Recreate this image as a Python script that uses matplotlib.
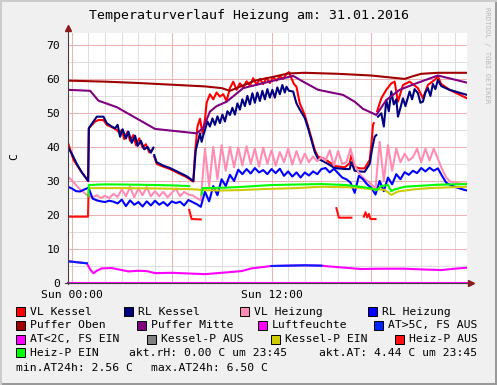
import numpy as np
import matplotlib
matplotlib.use("Agg")
import matplotlib.pyplot as plt
from matplotlib.patches import Rectangle

nan = np.nan
W, H = 497, 385
MONO = "DejaVu Sans Mono"

# --- data (hours relative to Sun 00:00) ---
# regular 15 min grid for the two noisy heating circuit series
t_grid = np.arange(97) * 0.25 - 0.25

vl_heizung = [31.3, 30.2, 28.8, 27.5, 26.5, 25.5, 25.2, 25.8, 25.0, 25.6, 25.0, 26.2, 25.3,
              27.5, 25.5, 28.3, 25.2, 27.8, 25.8, 28.2, 25.5, 27.0, 25.5, 26.8, 25.2, 26.5,
              27.8, 25.5, 26.8, 26.0, 25.8, 25.0, 24.3, 39.5, 28.5, 40.0, 30.5, 40.5, 33.0,
              40.0, 34.0, 39.8, 34.5, 40.2, 35.0, 39.5, 34.2, 39.8, 35.0, 39.0, 34.5, 38.5,
              35.5, 39.5, 34.8, 38.8, 35.2, 38.0, 35.5, 37.2, 35.8, 37.0, 36.0, 39.0, 34.5,
              38.8, 35.0, 35.5, 39.5, 34.8, 32.3, 31.0, 30.0, 29.0, 27.8, 41.5, 30.0, 40.5,
              33.0, 39.5, 35.5, 38.0, 36.0, 37.0, 39.5, 35.5, 39.5, 36.0, 39.5, 36.5, 33.5,
              31.0, 29.8, 29.5, 29.3, 29.2, 29.2]

rl_heizung = [28.3, 27.8, 27.0, 26.9, 27.5, 28.0, 24.8, 24.3, 24.0, 23.8, 24.2, 23.9, 23.4,
              24.5, 22.6, 24.3, 23.0, 23.8, 22.5, 24.0, 22.8, 24.2, 23.0, 23.8, 22.7, 24.0,
              23.5, 23.9, 22.8, 24.4, 23.8, 23.2, 22.4, 26.9, 24.0, 28.5, 25.8, 30.5, 28.5,
              31.8, 30.0, 33.3, 32.0, 33.5, 32.2, 33.8, 32.5, 33.2, 32.0, 33.5, 32.3, 33.6,
              31.5, 32.8, 31.3, 32.5, 31.0, 32.5, 31.6, 32.8, 32.0, 33.5, 33.8, 32.5, 33.6,
              32.3, 31.0, 30.5, 29.5, 26.5, 31.5, 30.5, 29.0, 28.0, 26.0, 30.0, 27.0, 31.0,
              29.0, 32.0, 30.5, 32.6, 31.8, 33.0, 32.3, 33.8, 32.8, 33.9, 33.0, 33.7, 31.5,
              29.5, 28.8, 28.3, 27.9, 27.5, 27.2]

vl_kessel_t = [-0.25, 0.1, 0.5, 0.98, 1.02, 1.4, 1.6, 1.9, 2.1, 2.4, 2.7, 2.85, 3.0, 3.15, 3.35,
               3.5, 3.7, 3.85, 4.05, 4.25, 4.45, 4.65, 4.85, 4.9, 4.95, 5.1, 5.5, 5.9, 6.4, 6.9,
               7.3, 7.4, 7.55, 7.7, 7.85, 8.0, 8.1, 8.3, 8.5, 8.7, 8.9, 9.1, 9.3, 9.5, 9.7, 9.9,
               10.1, 10.3, 10.5, 10.7, 10.9, 11.1, 11.3, 11.5, 11.7, 11.9, 12.1, 12.3, 12.5,
               12.7, 12.9, 13.05, 13.2, 13.35, 13.5, 13.7, 14.0, 14.2, 14.4, 14.6, 14.8, 15.1,
               15.4, 15.8, 16.4, 16.7, 16.8, 17.0, 17.3, 17.6, 17.9, 18.0, 18.1, 18.15, 18.25,
               18.35, 18.6, 18.9, 19.2, 19.4, 19.6, 19.9, 20.3, 20.8, 21.1, 21.4, 21.8, 22.0,
               22.2, 22.7, 23.75]
vl_kessel = [41.5, 36.2, 33.2, 30.0, 45.5, 47.5, 47.9, 47.9, 46.5, 45.8, 45.0, 44.2, 45.0, 42.3,
             44.5, 41.8, 43.5, 40.5, 42.5, 39.8, 40.8, 38.4, 39.3, nan, 37.2, 35.0, 34.2, 33.5,
             32.3, 31.1, 29.8, 38.0, 46.0, 48.3, 44.0, 48.0, 53.0, 55.5, 54.0, 56.0, 54.8, 55.5,
             53.5, 57.3, 59.2, 56.8, 58.7, 57.5, 59.3, 58.0, 60.2, 58.3, 60.0, 58.5, 60.3, 58.8,
             60.5, 59.5, 60.8, 60.0, 61.5, 62.0, 60.2, 58.5, 57.7, 52.8, 49.4, 46.0, 42.6, 39.1,
             37.1, 36.7, 35.8, 34.4, 34.0, 35.2, 37.6, 34.2, 33.7, 33.7, 36.2, 40.6, 46.5, 47.0,
             nan, 50.5, 54.3, 56.8, 58.7, 59.2, 53.3, 58.2, 59.2, 57.3, 54.3, 58.2, 59.7, 60.7,
             58.5, 56.8, 54.3]

rl_kessel_t = [-0.25, 0.0, 0.3, 0.6, 0.98, 1.02, 1.3, 1.5, 1.9, 2.1, 2.4, 2.6, 2.75, 2.9, 3.05,
               3.25, 3.4, 3.6, 3.8, 3.95, 4.15, 4.35, 4.55, 4.75, 4.9, 4.92, 4.95, 5.1, 5.5, 5.9,
               6.4, 6.9, 7.3, 7.45, 7.6, 7.7, 7.8, 7.9, 8.0, 8.15, 8.3, 8.45, 8.6, 8.75, 8.9,
               9.05, 9.2, 9.35, 9.5, 9.65, 9.8, 9.95, 10.1, 10.25, 10.4, 10.55, 10.7, 10.85,
               11.0, 11.15, 11.3, 11.45, 11.6, 11.75, 11.9, 12.05, 12.2, 12.35, 12.5, 12.65,
               12.8, 12.9, 13.05, 13.3, 13.5, 13.7, 14.0, 14.2, 14.4, 14.6, 14.8, 15.1, 15.4,
               15.8, 16.4, 16.7, 16.8, 17.0, 17.3, 17.6, 17.9, 18.05, 18.2, 18.3, 18.35, 18.4,
               18.6, 18.75, 18.9, 19.05, 19.2, 19.35, 19.5, 19.6, 19.75, 19.9, 20.05, 20.3,
               20.45, 20.6, 20.8, 20.95, 21.1, 21.25, 21.4, 21.55, 21.7, 21.85, 22.0, 22.2,
               22.7, 23.75]
rl_kessel = [40.0, 38.0, 35.0, 32.5, 30.0, 45.5, 47.5, 48.9, 48.9, 47.0, 46.0, 45.5, 46.5, 43.0,
             45.2, 42.5, 44.5, 41.2, 43.3, 40.3, 41.8, 39.3, 40.0, 38.3, 39.8, nan, 37.6, 35.5,
             34.5, 33.8, 32.6, 31.4, 30.0, 39.1, 42.0, 44.0, 41.5, 43.5, 45.0, 47.5, 46.0, 48.4,
             46.5, 49.0, 47.0, 49.5, 47.5, 50.5, 49.4, 51.5, 49.5, 52.8, 51.0, 54.0, 52.0, 55.0,
             52.5, 55.8, 53.0, 56.0, 53.5, 56.5, 54.0, 57.0, 54.5, 56.8, 54.5, 57.5, 55.5, 58.2,
             56.0, 57.7, 56.5, 56.3, 52.8, 51.0, 48.5, 45.5, 42.0, 38.5, 36.5, 35.8, 35.0, 33.8,
             33.5, 33.5, 35.5, 33.0, 32.8, 32.7, 35.0, 39.5, 43.0, 43.5, nan, 48.9, 49.9, 46.0,
             53.8, 50.5, 56.3, 52.5, 54.0, 48.9, 51.5, 54.3, 52.0, 56.3, 54.0, 57.0, 55.8, 53.0,
             53.3, 56.0, 57.3, 55.0, 58.5, 57.0, 59.7, 57.9, 56.8, 55.3]

puffer_oben_t = [-0.25, 2, 4, 6, 8, 9, 9.5, 10, 11, 12, 13, 14, 16, 18, 19, 20, 20.5, 21, 22, 23.75]
puffer_oben = [59.5, 59.2, 58.8, 58.3, 57.8, 57.3, 56.5, 57.5, 59.5, 60.5, 61.6, 61.8, 61.5,
               61.0, 60.5, 60.0, 60.8, 61.5, 61.8, 61.8]

puffer_mitte_t = [-0.25, 1.1, 1.6, 2.7, 5.0, 7.5, 7.9, 8.3, 8.7, 9.3, 10.3, 11.7, 13.3, 13.9,
                  14.8, 16.3, 17.0, 17.5, 18.3, 18.9, 19.7, 20.7, 22.0, 23.75]
puffer_mitte = [56.8, 56.5, 53.6, 51.7, 45.3, 44.0, 45.6, 50.4, 52.0, 53.3, 57.3, 59.0, 60.9,
                59.2, 56.8, 55.3, 53.3, 51.2, 49.4, 53.8, 56.8, 58.7, 61.0, 58.9]

luftfeuchte_t = [-0.25, 23.75]
luftfeuchte = [0.0, 0.0]

aussen_t = [-0.25, 0.5, 0.9, 1.1, 1.3, 1.5, 1.8, 2.4, 3.0, 3.4, 4.0, 4.5, 5.0, 6.0, 7.0, 8.0,
            9.0, 10.2, 10.8, 12.0, 13.0, 14.0, 15.0, 15.4, 16.4, 17.4, 18.5, 20.0, 21.0, 22.2,
            23.0, 23.75]
aussen = [6.4, 6.0, 5.8, 4.0, 2.85, 3.6, 4.3, 4.4, 3.8, 3.4, 3.6, 3.5, 2.9, 3.0, 2.8, 2.6,
          3.0, 3.5, 4.3, 5.0, 5.1, 5.2, 5.1, 4.9, 4.5, 4.1, 4.2, 4.2, 4.0, 3.8, 4.2, 4.5]

kessel_p_ein_t = [1.05, 3, 5, 7, 7.5, 7.8, 9, 10, 12, 13.5, 15, 17, 18, 18.8, 19.2, 19.6,
                  20.5, 21.5, 23.75]
kessel_p_ein = [27.9, 27.9, 27.8, 27.6, 27.5, 27.3, 27.2, 27.3, 27.7, 27.9, 28.3, 28.1, 27.6,
                27.4, 25.9, 26.9, 27.5, 27.9, 28.3]

heiz_p_aus_t = [-0.25, 0.97, 1.0, 1.01, 7.05, 7.2, 7.75, 7.76, 15.9, 16.05, 16.8, 16.81,
                17.55, 17.65, 17.75, 17.85, 17.95, 18.25]
heiz_p_aus = [19.5, 19.5, 25.8, nan, 21.5, 18.8, 18.7, nan, 22.0, 19.2, 19.2, nan,
              19.5, 20.8, 19.3, 20.3, 18.8, 18.8]

heiz_p_ein_t = [0.98, 1.02, 2, 4, 6, 7.05, 7.06, 7.8, 7.85, 9, 10, 12, 14, 15, 16.5, 17.0,
                17.5, 18.0, 18.3, 18.6, 19.0, 19.2, 19.4, 20, 21, 22, 23.75]
heiz_p_ein = [25.5, 28.8, 29.0, 28.9, 28.7, 28.5, nan, 26.0, 27.9, 28.0, 28.2, 28.8, 29.0,
              29.1, 28.8, 28.5, 28.2, 27.8, 27.3, 28.5, 28.8, 27.0, 27.5, 28.3, 28.6, 28.9, 29.1]

legend_rows = [
    [("VL Kessel", "#FF0000", 16), ("RL Kessel", "#000080", 124),
     ("VL Heizung", "#FF8CB4", 240), ("RL Heizung", "#0000FF", 368)],
    [("Puffer Oben", "#A00000", 16), ("Puffer Mitte", "#800080", 137),
     ("Luftfeuchte", "#FF00FF", 258), ("AT>5C, FS AUS", "#0022FF", 374)],
    [("AT<2C, FS EIN", "#FF00FF", 16), ("Kessel-P AUS", "#808080", 147),
     ("Kessel-P EIN", "#CCCC00", 271), ("Heiz-P AUS", "#FF1010", 395)],
    [("Heiz-P EIN", "#00FF00", 16)],
]
row_y = [311.7, 325.3, 339.3, 352.7]


def fx(x):
    return x / W


def fy(y):
    return 1 - y / H


fig = plt.figure(figsize=(W / 100, H / 100), dpi=100, facecolor="#F0F0F0")
ax = fig.add_axes([fx(67.7), fy(283), (467 - 67.7) / W, (283 - 33) / H])
ax.set_facecolor("white")
ax.set_xlim(-0.25, 23.75)
ax.set_ylim(0, 73.5)
for s in ax.spines.values():
    s.set_visible(False)

# grid
for v in range(5, 74, 5):
    major = v % 10 == 0
    ax.axhline(v, color="#EBB4B4" if major else "#DEDEDE", lw=0.75, zorder=0.5 if major else 0.4)
for h in range(0, 24):
    major = h % 6 == 0
    ax.axvline(h, color="#EBB4B4" if major else "#DEDEDE", lw=0.75, zorder=0.5 if major else 0.4)

lw = 1.5
ax.plot(vl_kessel_t, vl_kessel, color="#FF0000", lw=lw, zorder=2)
ax.plot(rl_kessel_t, rl_kessel, color="#000080", lw=lw, zorder=2.1)
ax.plot(t_grid, vl_heizung, color="#FF8CB4", lw=lw, zorder=2.2)
ax.plot(t_grid, rl_heizung, color="#0000FF", lw=lw, zorder=2.3)
ax.plot(puffer_oben_t, puffer_oben, color="#A00000", lw=lw, zorder=2.4)
ax.plot(puffer_mitte_t, puffer_mitte, color="#800080", lw=lw, zorder=2.5)
ax.plot(luftfeuchte_t, luftfeuchte, color="#FF00FF", lw=lw, zorder=4, clip_on=False)
at = np.array(aussen)
ax.plot(aussen_t, at, color="#FF00FF", lw=lw, zorder=2.6)
ax.plot(aussen_t, np.where(at >= 5, at, nan), color="#0022FF", lw=lw, zorder=2.7)
ax.plot(kessel_p_ein_t, kessel_p_ein, color="#CCCC00", lw=lw, zorder=2.8)
ax.plot(heiz_p_aus_t, heiz_p_aus, color="#FF1010", lw=lw, zorder=2.9)
ax.plot(heiz_p_ein_t, heiz_p_ein, color="#00FF00", lw=lw, zorder=3)

# ticks
ax.set_yticks(range(0, 71, 10))
ax.set_xticks([0, 12])
ax.set_xticklabels(["Sun 00:00", "Sun 12:00"])
ax.tick_params(axis="y", length=0, pad=5.5, labelsize=8.2)
ax.tick_params(axis="x", length=0, pad=5.0, labelsize=8.2)
for lab in ax.get_xticklabels() + ax.get_yticklabels():
    lab.set_family(MONO)

# axes with arrows
fig.add_artist(plt.Line2D([fx(67.7), fx(67.7)], [fy(284), fy(29)], color="#404040", lw=0.8))
fig.add_artist(plt.Line2D([fx(65), fx(470)], [fy(283), fy(283)], color="#404040", lw=0.8))
fig.add_artist(plt.Line2D([fx(67.7)], [fy(28)], marker="^", ms=4, color="#8B1A1A", lw=0))
fig.add_artist(plt.Line2D([fx(471)], [fy(283)], marker=">", ms=4, color="#8B1A1A", lw=0))

# titles
fig.text(fx(249), fy(16), "Temperaturverlauf Heizung am: 31.01.2016", ha="center", va="center",
         family=MONO, fontsize=9.5)
fig.text(fx(14), fy(157), "C", ha="center", va="center", rotation=90, family=MONO, fontsize=8.2)
fig.text(fx(487), fy(7), "RRDTOOL / TOBI OETIKER", ha="center", va="top", rotation=270,
         family=MONO, fontsize=5.2, color="#B8B8B8")

# legend
for row, y in zip(legend_rows, row_y):
    for label, col, bx in row:
        fig.add_artist(Rectangle((fx(bx), fy(y + 4.5)), 9 / W, 9 / H, transform=fig.transFigure,
                                 facecolor=col, edgecolor="black", lw=0.7))
        fig.text(fx(bx + 14), fy(y), label, ha="left", va="center", family=MONO, fontsize=8.2)
fig.text(fx(129), fy(352.7), "akt.rH: 0.00 C um 23:45", ha="left", va="center", family=MONO,
         fontsize=8.2)
fig.text(fx(319), fy(352.7), "akt.AT: 4.44 C um 23:45", ha="left", va="center", family=MONO,
         fontsize=8.2)
fig.text(fx(16), fy(367.7), "min.AT24h: 2.56 C", ha="left", va="center", family=MONO, fontsize=8.2)
fig.text(fx(151), fy(367.7), "max.AT24h: 6.50 C", ha="left", va="center", family=MONO, fontsize=8.2)

# 3d border
fig.add_artist(Rectangle((0, 0), 1, 2 / H, transform=fig.transFigure, color="#999999", lw=0))
fig.add_artist(Rectangle((1 - 2 / W, 0), 2 / W, 1, transform=fig.transFigure, color="#999999", lw=0))
fig.add_artist(Rectangle((0, 1 - 2 / H), 1, 2 / H, transform=fig.transFigure, color="#CBCBCB", lw=0))
fig.add_artist(Rectangle((0, 0), 2 / W, 1, transform=fig.transFigure, color="#CBCBCB", lw=0))

fig.savefig("out.png", dpi=100, facecolor=fig.get_facecolor())
